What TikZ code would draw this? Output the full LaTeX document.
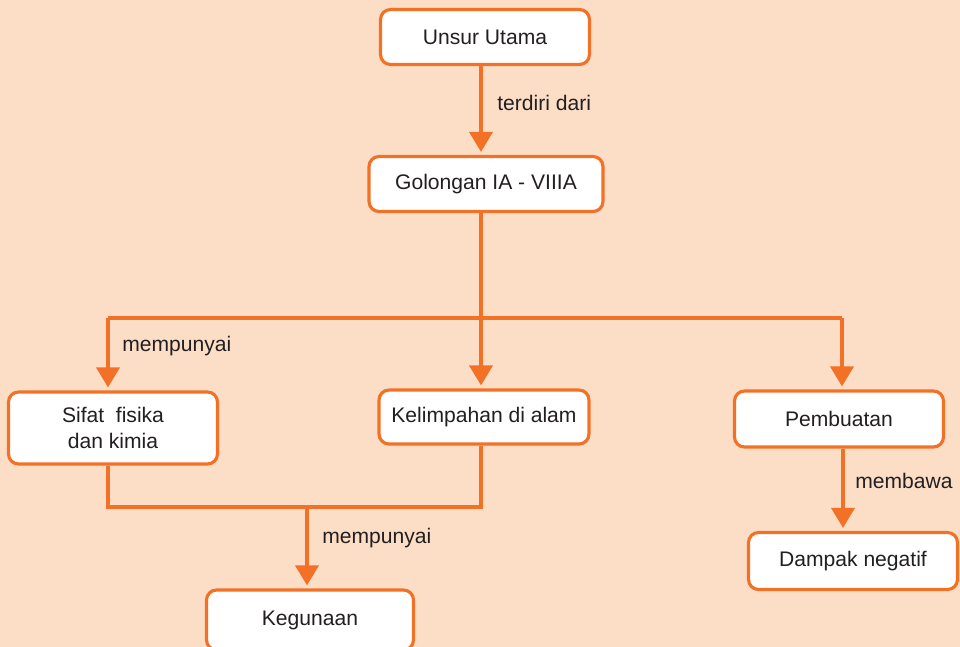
\documentclass[tikz,border=0pt]{standalone}
\usepackage{fontspec}
\setmainfont{Liberation Sans}
\usetikzlibrary{arrows.meta}
\definecolor{peach}{RGB}{252,222,198}
\definecolor{oranye}{RGB}{242,113,38}
\definecolor{tinta}{RGB}{35,31,32}

\begin{document}
\begin{tikzpicture}[x=0.02cm, y=-0.02cm,
    kotak/.style={draw=oranye, line width=1.8pt, fill=white, rounded corners=0.2cm,
        align=center, text=tinta, font=\fontsize{12}{15}\selectfont, inner sep=0pt},
    garis/.style={draw=oranye, line width=2.1pt},
    panah/.style={garis, -{Triangle[width=0.46cm, length=0.4cm]}, shorten >=0.06cm},
    ket/.style={anchor=west, text=tinta, font=\fontsize{12}{15}\selectfont, inner sep=0pt}]
                \useasboundingbox (0,0) rectangle (960,646);
                \fill[peach] (-10,-10) rectangle (970,656);
                \node[kotak, minimum width=4.18cm, minimum height=1.1cm] (unsur) at (485,37) {Unsur Utama};
                \node[kotak, minimum width=4.68cm, minimum height=1.1cm] (golongan) at (486,184) {Golongan IA - VIIIA};
                \node[kotak, minimum width=4.18cm, minimum height=1.44cm] (sifat) at (113,428) {Sifat\ \ fisika\\dan kimia};
                \node[kotak, minimum width=4.2cm, minimum height=1.08cm] (kelimpahan) at (484,417) {Kelimpahan di alam};
                \node[kotak, minimum width=4.18cm, minimum height=1.12cm] (pembuatan) at (839,419) {Pembuatan};
                \node[kotak, minimum width=4.18cm, minimum height=1.14cm] (dampak) at (853,561) {Dampak negatif};
                \node[kotak, minimum width=4.14cm, minimum height=1.2cm] (kegunaan) at (310,620) {Kegunaan};
                \coordinate (cabang) at (481,318);
                \coordinate (kiri) at (108,318);
                \coordinate (kanan) at (842,318);
                \coordinate (gabung) at (307,507);
                \draw[panah] (unsur.south -| cabang) -- (golongan.north -| cabang);
                \draw[panah] (golongan.south -| cabang) -- (kelimpahan.north -| cabang);
                \draw[garis] (kiri) -- (kanan);
                \draw[panah] (kiri) -- (sifat.north -| kiri);
                \draw[panah] (kanan) -- (pembuatan.north -| kanan);
                \draw[panah] (pembuatan.south -| 843,0) -- (dampak.north -| 843,0);
                \draw[garis] (sifat.south -| kiri) -- (kiri |- gabung) -- (cabang |- gabung) -- (kelimpahan.south -| cabang);
                \draw[panah] (gabung) -- (kegunaan.north -| gabung);
                \node[ket] (terdiri) at (497,103) {terdiri dari};
                \node[ket] (punya1) at (122,346) {mempunyai};
                \node[ket] (punya2) at (322,538) {mempunyai};
                \node[ket] (bawa) at (855,481) {membawa};
            \end{tikzpicture}
\end{document}
